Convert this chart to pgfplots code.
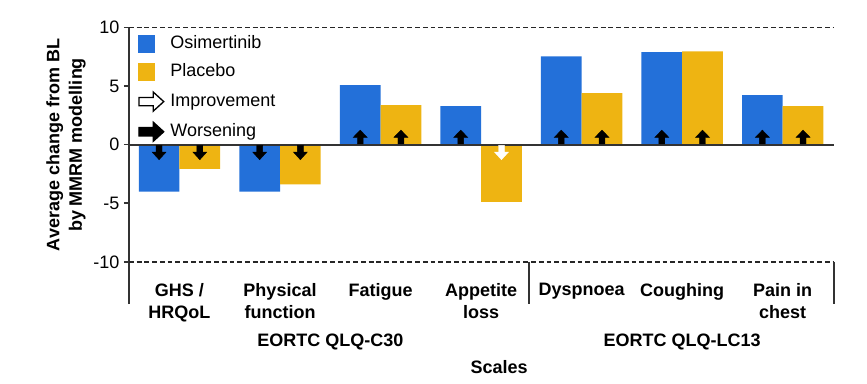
\documentclass[border=0pt]{standalone}
\usepackage{fontspec}
\setmainfont{Liberation Sans}
\usepackage{pgfplots}
\pgfplotsset{compat=1.18}
\definecolor{osiblue}{HTML}{2370D9}
\definecolor{plgold}{HTML}{EEB412}
\definecolor{axgray}{HTML}{333333}
\newcommand{\fs}{\fontsize{13.5}{16.9}\selectfont}

\pgfdeclareplotmark{uarr}{%
  \pgfpathmoveto{\pgfqpoint{-2.2pt}{0.5pt}}%
  \pgfpathlineto{\pgfqpoint{-2.2pt}{5.4pt}}%
  \pgfpathlineto{\pgfqpoint{-5.3pt}{5.4pt}}%
  \pgfpathlineto{\pgfqpoint{0pt}{10.9pt}}%
  \pgfpathlineto{\pgfqpoint{5.3pt}{5.4pt}}%
  \pgfpathlineto{\pgfqpoint{2.2pt}{5.4pt}}%
  \pgfpathlineto{\pgfqpoint{2.2pt}{0.5pt}}%
  \pgfpathclose
  \pgfusepathqfillstroke}
\pgfdeclareplotmark{darr}{%
  \pgfpathmoveto{\pgfqpoint{-2.2pt}{-0.5pt}}%
  \pgfpathlineto{\pgfqpoint{-2.2pt}{-5.6pt}}%
  \pgfpathlineto{\pgfqpoint{-5.2pt}{-5.6pt}}%
  \pgfpathlineto{\pgfqpoint{0pt}{-11.3pt}}%
  \pgfpathlineto{\pgfqpoint{5.2pt}{-5.6pt}}%
  \pgfpathlineto{\pgfqpoint{2.2pt}{-5.6pt}}%
  \pgfpathlineto{\pgfqpoint{2.2pt}{-0.5pt}}%
  \pgfpathclose
  \pgfusepathqfillstroke}

\begin{document}
\begin{tikzpicture}
\path[use as bounding box] (-96.75pt,-59.25pt) rectangle (553.5pt,228pt);
\begin{axis}[
  width=528.75pt, height=207.4pt, scale only axis,
  xmin=-0.502, xmax=6.51, ymin=-13.6, ymax=10,
  clip=false,
  axis x line=bottom, axis y line=left,
  x axis line style={draw=none},
  y axis line style={-, line width=1.5pt, color=axgray},
  xtick={0,1,2,3,4,5,6},
  xticklabels={{GHS /\\HRQoL},{Physical\\function},{Fatigue},{Appetite\\loss},{Dyspnoea},{Coughing},{Pain in\\chest}},
  xticklabel style={align=center, font=\fs\bfseries, anchor=north, yshift=22.8pt},
  x tick style={draw=none},
  ytick={-10,-5,0,5,10},
  yticklabels={-10,-5,0,5,10},
  yticklabel style={font=\fs},
  y tick style={line width=1.2pt, color=axgray},
  tick align=outside, major tick length=3.75pt,
  xlabel={Scales},
  xlabel style={at={(axis description cs:0.525,0)}, anchor=base, yshift=-51.75pt, font=\fs\bfseries},
  ylabel={Average change from BL\\by MMRM modelling},
  ylabel style={at={(axis description cs:-0.0894,0.575)}, anchor=center, align=center, font=\fs\bfseries},
  legend style={at={(axis description cs:0,1)}, anchor=north west, xshift=6.75pt, yshift=-5pt,
    draw=none, fill=none, inner sep=0pt, row sep=7.4pt, column sep=4pt, font=\fs,
    nodes={inner sep=0.5pt, text height=10pt, text depth=3pt}},
  legend cell align=left,
]
\addplot[ybar, bar width=0.405, bar shift=-0.2025, fill=osiblue, draw=none,
  legend image code/.code={\fill[osiblue] (0pt,-6.75pt) rectangle (12.75pt,6.75pt);}]
  coordinates {(0,-4.0) (1,-4.0) (2,5.07) (3,3.28) (4,7.54) (5,7.89) (6,4.22)};
\addlegendentry{Osimertinib}
\addplot[ybar, bar width=0.405, bar shift=0.2025, fill=plgold, draw=none,
  legend image code/.code={\fill[plgold] (0pt,-6.75pt) rectangle (12.75pt,6.75pt);}]
  coordinates {(0,-2.06) (1,-3.4) (2,3.37) (3,-4.88) (4,4.39) (5,7.97) (6,3.28)};
\addlegendentry{Placebo}
\addlegendimage{legend image code/.code={
  \draw[black, line width=1pt, fill=white] (0.4pt,-3.1pt) -- (11.2pt,-3.1pt) -- (11.2pt,-7.1pt) -- (19pt,0pt) -- (11.2pt,7.1pt) -- (11.2pt,3.1pt) -- (0.4pt,3.1pt) -- cycle;}}
\addlegendentry{Improvement}
\addlegendimage{legend image code/.code={
  \draw[black, line width=1pt, fill=black] (0.4pt,-3.1pt) -- (11.2pt,-3.1pt) -- (11.2pt,-7.1pt) -- (19pt,0pt) -- (11.2pt,7.1pt) -- (11.2pt,3.1pt) -- (0.4pt,3.1pt) -- cycle;}}
\addlegendentry{Worsening}

% reference lines
\draw[black!85, line width=1.2pt, dash pattern=on 3.6pt off 2.2pt] (axis cs:-0.502,10) -- (axis cs:6.51,10);
\draw[black!85, line width=1.2pt, dash pattern=on 3.6pt off 2.2pt] (axis cs:-0.502,-10) -- (axis cs:6.51,-10);
\draw[axgray, line width=1.5pt] (axis cs:-0.502,0) -- (axis cs:6.51,0);
\draw[axgray, line width=1.5pt] (axis cs:3.48,-10) -- (axis cs:3.48,-13.6);
\draw[axgray, line width=1.5pt] (axis cs:6.51,-10) -- (axis cs:6.51,-13.6);

% arrows
\addplot[forget plot, only marks, mark=uarr, mark options={fill=black, draw=black, line width=0.3pt}]
  coordinates {(1.7975,0) (2.2025,0) (2.7975,0) (3.7975,0) (4.2025,0) (4.7975,0) (5.2025,0) (5.7975,0) (6.2025,0)};
\addplot[forget plot, only marks, mark=darr, mark options={fill=black, draw=black, line width=0.3pt}]
  coordinates {(-0.2025,0) (0.2025,0) (0.7975,0) (1.2025,0)};
\addplot[forget plot, only marks, mark=darr, mark options={fill=white, draw=white, line width=0.3pt}]
  coordinates {(3.2025,0)};

\node[font=\fs\bfseries, anchor=base, yshift=-31.5pt] at (axis cs:1.5,-13.6) {EORTC QLQ-C30};
\node[font=\fs\bfseries, anchor=base, yshift=-31.5pt] at (axis cs:5,-13.6) {EORTC QLQ-LC13};
\end{axis}
\end{tikzpicture}
\end{document}
